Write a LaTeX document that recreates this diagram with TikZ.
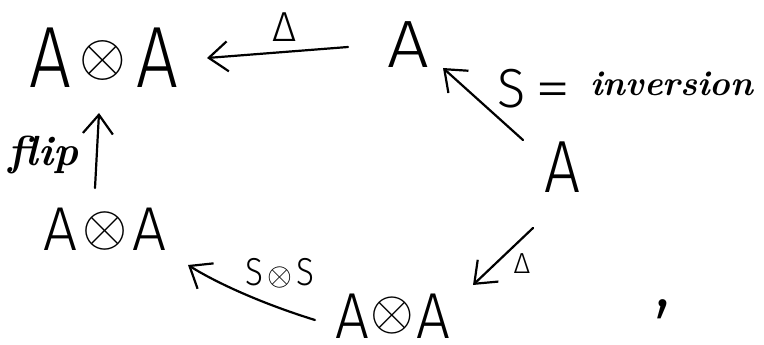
\documentclass[tikz,border=0pt]{standalone}
\usepackage{fontspec}
\usepackage{graphicx}
\setmainfont{Fira Sans Light}
\newfontfamily\cursive{Latin Modern Roman}
\usetikzlibrary{arrows.meta,calc}

% a narrowed capital A, and a tensor sign of given scale and lift
\newcommand\hA[1]{\scalebox{#1}[1]{A}}
\newcommand\tens[2]{\raisebox{#2}{\scalebox{#1}{\fontsize{10}{12}\selectfont$\otimes$}}}
\newcommand\fs[1]{\fontsize{#1}{#1}\selectfont}

\tikzset{
  txt/.style={inner sep=0pt, outer sep=0pt, anchor=base},
  hand/.style={font=\cursive\bfseries\itshape},
  arr/.style={line width=2.2pt, line cap=round, line join=round,
              -{Straight Barb[length=19pt,width=30pt]}},
}

\begin{document}
\begin{tikzpicture}[x=1pt,y=-1pt]
\useasboundingbox[fill=white] (0,0) rectangle (764,345);

% objects of the diagram
\node[txt] (AA1) at (104,88)
  {\fs{87}\hA{0.85}\hspace{8pt}\tens{6.0}{13pt}\hspace{11pt}\hA{0.85}};
\node[txt] (A1) at (408,68) {\fs{67}\hA{1.1}};
\node[txt] (A2) at (562,193) {\fs{74}\hA{0.86}};
\node[txt] (AA2) at (105,250)
  {\fs{62}\hA{0.97}\hspace{5pt}\tens{5.8}{4.5pt}\hspace{5pt}\hA{0.97}};
\node[txt] (AA3) at (393,338)
  {\fs{65}\hA{0.92}\hspace{1pt}\tens{5.6}{9pt}\hspace{3pt}\hA{0.92}};

% labels
\node[txt] (dtop) at (285,42) {\fs{42}Δ};
\node[txt] (dbot) at (522,273) {\fs{29}Δ};
\node[txt, anchor=base west] (inv) at (497,108)
  {\fs{55}\scalebox{0.95}[1]{S}\hspace{10pt}\scalebox{1.3}[1]{=}\hspace{20pt}\raisebox{13pt}{\cursive\bfseries\itshape\fs{35}inversion}};
\node[txt] (sos) at (280,285)
  {\fs{39}\scalebox{0.85}[1]{S}\hspace{4pt}\tens{3.2}{0pt}\hspace{4pt}\scalebox{0.85}[1]{S}};
\node[txt, hand, anchor=base west] (flip) at (9,165) {\fs{42}flip};
\node[txt] (comma) at (663,306) {\fs{82},};

% arrows
\draw[arr] ($(A1.base)+(-60,-21)$) -- ($(AA1.base)+(103,-30)$);
\draw[arr] ($(A2.base)+(-39,-53)$) -- ($(A1.base)+(35,0)$);
\draw[arr] ($(A2.base)+(-29,35)$) -- ($(AA3.base)+(80,-53)$);
\draw[arr] ($(AA3.base)+(-78,-18)$) .. controls ($(AA3.base)+(-133,-35)$) and ($(AA2.base)+(110,32)$) .. ($(AA2.base)+(83,15)$);
\draw[arr] ($(AA2.base)+(-10,-62)$) -- ($(AA1.base)+(-5,25)$);
\end{tikzpicture}
\end{document}
